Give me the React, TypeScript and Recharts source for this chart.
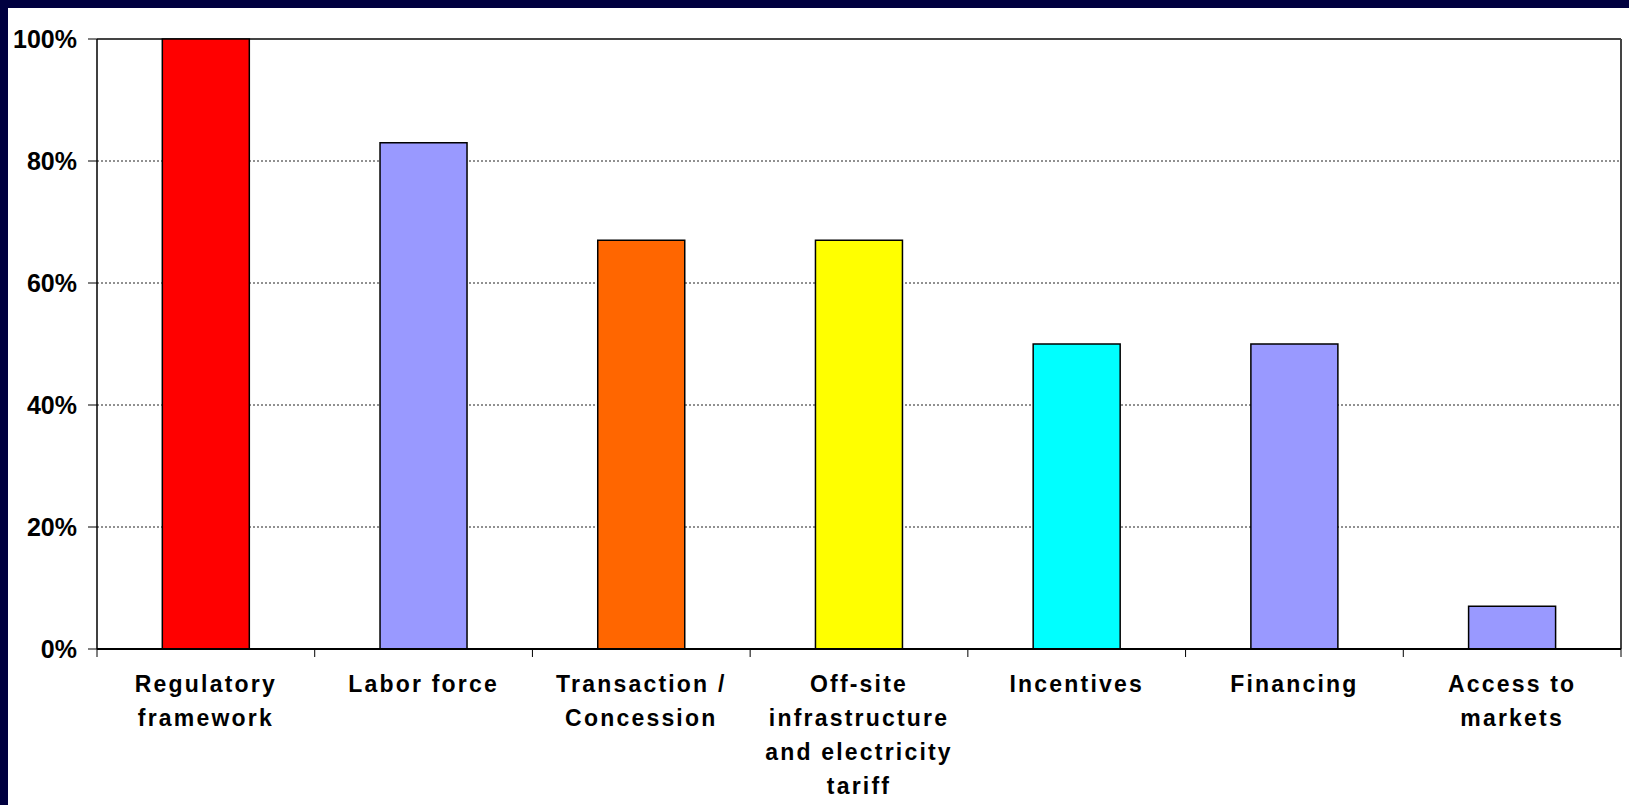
import { Bar, BarChart, CartesianGrid, Cell, XAxis, YAxis } from "recharts";

const categories = [
  "Regulatory framework",
  "Labor force",
  "Transaction / Concession",
  "Off-site infrastructure and electricity tariff",
  "Incentives",
  "Financing",
  "Access to markets",
];

const labelLines = [
  ["Regulatory", "framework"],
  ["Labor force"],
  ["Transaction /", "Concession"],
  ["Off-site", "infrastructure", "and electricity", "tariff"],
  ["Incentives"],
  ["Financing"],
  ["Access to", "markets"],
];

const shares = [100, 83, 67, 67, 50, 50, 7];

const barColors = ["#ff0000", "#9999ff", "#ff6600", "#ffff00", "#00ffff", "#9999ff", "#9999ff"];

const yTicks = [0, 20, 40, 60, 80, 100];

const data = categories.map((name, i) => ({ name, value: shares[i] }));

const W = 1629;
const H = 805;
const X_HEIGHT = 30;
const MARGIN = { top: 39, right: 8, bottom: 156 - X_HEIGHT, left: 0 };
const Y_WIDTH = 97;
const BAND = (W - MARGIN.left - MARGIN.right - Y_WIDTH) / categories.length;
const FONT = '"Liberation Sans", Arial, sans-serif';

function CategoryTick(props: any) {
  const { x, y, index } = props;
  const lines = labelLines[index] ?? [];
  return (
    <g>
      <line x1={x - BAND / 2} x2={x - BAND / 2} y1={y} y2={y + 8} stroke="#000" strokeWidth={1} />
      {index === categories.length - 1 && (
        <line x1={x + BAND / 2} x2={x + BAND / 2} y1={y} y2={y + 8} stroke="#000" strokeWidth={1} />
      )}
      <text
        x={x}
        y={y + 43}
        textAnchor="middle"
        fill="#000"
        fontFamily={FONT}
        fontWeight="bold"
        fontSize={23}
        letterSpacing={2.2}
      >
        {lines.map((line, i) => (
          <tspan key={i} x={x} dy={i === 0 ? 0 : 34}>
            {line}
          </tspan>
        ))}
      </text>
    </g>
  );
}

export default function App() {
  return (
    <div
      style={{
        position: "fixed",
        left: 0,
        top: 0,
        width: W,
        height: H,
        background: "#000040",
      }}
    >
      <div
        style={{
          position: "absolute",
          left: 8,
          top: 8,
          width: W - 8,
          height: H - 8,
          background: "#fff",
        }}
      />
      <div style={{ position: "absolute", left: 0, top: 0 }}>
        <BarChart width={W} height={H} data={data} margin={MARGIN} barCategoryGap="30%">
          <CartesianGrid
            vertical={false}
            stroke="#222"
            strokeDasharray="2 2"
            strokeWidth={1}
          />
          <CartesianGrid
            stroke="#444"
            strokeWidth={2}
            horizontalCoordinatesGenerator={({ offset }: any) => [offset.top]}
            verticalCoordinatesGenerator={({ offset }: any) => [offset.left + offset.width]}
          />
          <XAxis
            dataKey="name"
            height={X_HEIGHT}
            interval={0}
            tickSize={0}
            tickMargin={0}
            tickLine={false}
            axisLine={{ stroke: "#000", strokeWidth: 2 }}
            tick={<CategoryTick />}
          />
          <YAxis
            width={Y_WIDTH}
            domain={[0, 100]}
            ticks={yTicks}
            interval={0}
            tickFormatter={(v: number) => `${v}%`}
            tickSize={9}
            tickMargin={11}
            tickLine={{ stroke: "#000" }}
            axisLine={{ stroke: "#000", strokeWidth: 1.5 }}
            tick={{ fill: "#000", fontFamily: FONT, fontWeight: "bold", fontSize: 25 }}
          />
          <Bar dataKey="value" stroke="#000" strokeWidth={1.5} isAnimationActive={false}>
            {data.map((d, i) => (
              <Cell key={d.name} fill={barColors[i]} />
            ))}
          </Bar>
        </BarChart>
      </div>
    </div>
  );
}
